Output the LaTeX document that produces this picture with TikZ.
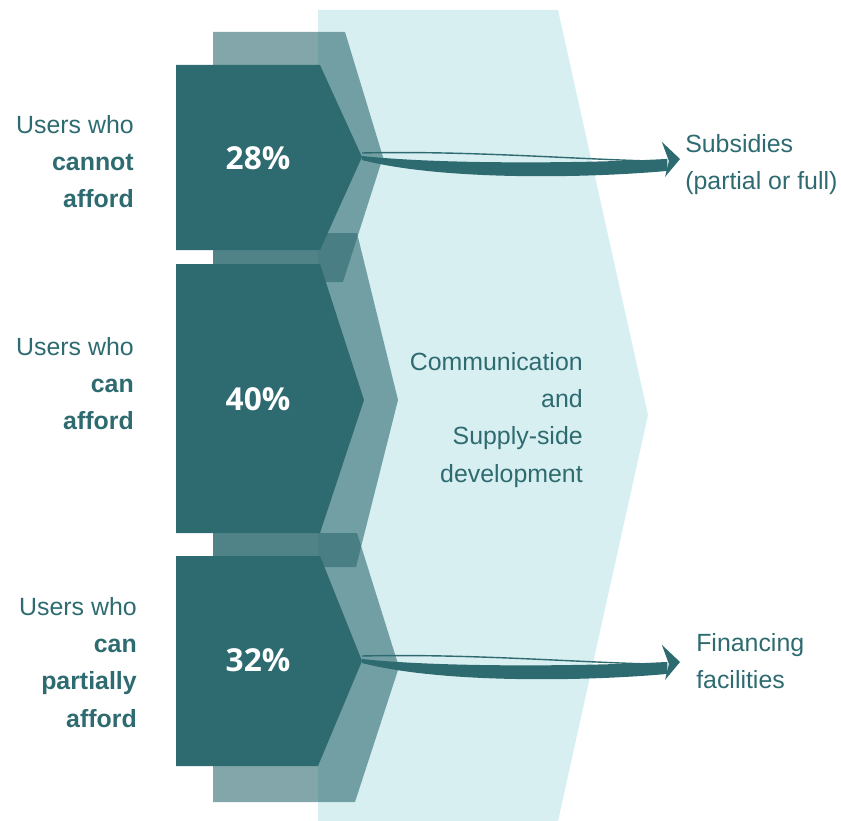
\documentclass[tikz,border=0pt]{standalone}
\usepackage{fontspec}
\setmainfont{Liberation Sans}
\newfontfamily\pctfont{Open Sans}
\usetikzlibrary{calc,positioning}
\definecolor{myteal}{RGB}{46,107,112}
\definecolor{mylight}{RGB}{216,239,242}
\tikzset{
  darkblock/.style={fill=myteal},
  shadeblock/.style={fill=myteal, fill opacity=0.6},
  pct/.style={text=white, inner sep=0pt, font=\pctfont\bfseries\fontsize{22.5}{27}\selectfont},
  lbl/.style={text=myteal, inner sep=0pt, font=\fontsize{17.7}{26.5}\selectfont}
}
\newcommand{\swoosh}[2]{%
  \draw[myteal, line width=1pt] ($(#1)+(0,-4)$) .. controls ($(#1)!0.31!(#2)+(0,-7)$) and ($(#1)!0.63!(#2)+(0,0)$) .. ($(#1)!0.88!(#2)+(0,2)$);
  \fill[myteal] ($(#1)+(0,3)$) .. controls ($(#1)!0.25!(#2)+(0,23)$) and ($(#1)!0.7!(#2)+(0,20)$) .. ($(#1)!0.96!(#2)+(0,12)$)
    -- ($(#1)!0.96!(#2)+(0,0)$) .. controls ($(#1)!0.7!(#2)+(0,5)$) and ($(#1)!0.25!(#2)+(0,7)$) .. ($(#1)+(0,-1)$) -- cycle;
  \fill[myteal] ($(#1)!0.943!(#2)+(0,-17)$) -- (#2) -- ($(#1)!0.953!(#2)+(0,18)$) -- ($(#1)!0.965!(#2)+(0,2)$) -- cycle;}

\begin{document}
\begin{tikzpicture}[x=0.025cm, y=-0.025cm]
  \useasboundingbox (0,0) rectangle (841,821);

  \fill[mylight] (318,10) -- (558,10) -- (648,415) -- (558,821) -- (318,821) -- cycle;

  \fill[shadeblock] (213,32) -- (345,32) -- (383,157) -- (343,282) -- (213,282) -- cycle;
  \fill[shadeblock] (213,233) -- (357,233) -- (398,400) -- (356,567) -- (213,567) -- cycle;
  \fill[shadeblock] (213,533) -- (357,533) -- (399,667) -- (355,802) -- (213,802) -- cycle;

  \fill[darkblock] (176,65) -- (320,65) -- (362,157) -- (320,250) -- (176,250) -- cycle;
  \fill[darkblock] (176,264) -- (320,264) -- (364,400) -- (320,533) -- (176,533) -- cycle;
  \fill[darkblock] (176,556) -- (320,556) -- (362,661) -- (318,766) -- (176,766) -- cycle;

  \node[pct] (pA) at (258,158) {28\%};
  \node[pct] (pB) at (258,399) {40\%};
  \node[pct] (pC) at (258,660) {32\%};

  \node[lbl, align=right, anchor=north east] (userA) at (134,115) {Users who\\\textbf{cannot}\\\textbf{afford}};
  \node[lbl, align=right, anchor=north east] (userB) at (134,337) {Users who\\\textbf{can}\\\textbf{afford}};
  \node[lbl, align=right, anchor=north east] (userC) at (137,597) {Users who\\\textbf{can}\\\textbf{partially}\\\textbf{afford}};

  \node[lbl, align=right, anchor=north east] (comm) at (583,352) {Communication\\and\\Supply-side\\development};

  \coordinate (tipA) at (362,157);
  \coordinate (headA) at (680,159);
  \coordinate (tipC) at (362,660);
  \coordinate (headC) at (680,662);

  \node[lbl, align=left, anchor=north west] (subs) at (685,134) {Subsidies\\(partial or full)};
  \node[lbl, align=left, anchor=north west] (fin) at (696,633) {Financing\\facilities};

  \swoosh{tipA}{headA}
  \swoosh{tipC}{headC}
\end{tikzpicture}
\end{document}
